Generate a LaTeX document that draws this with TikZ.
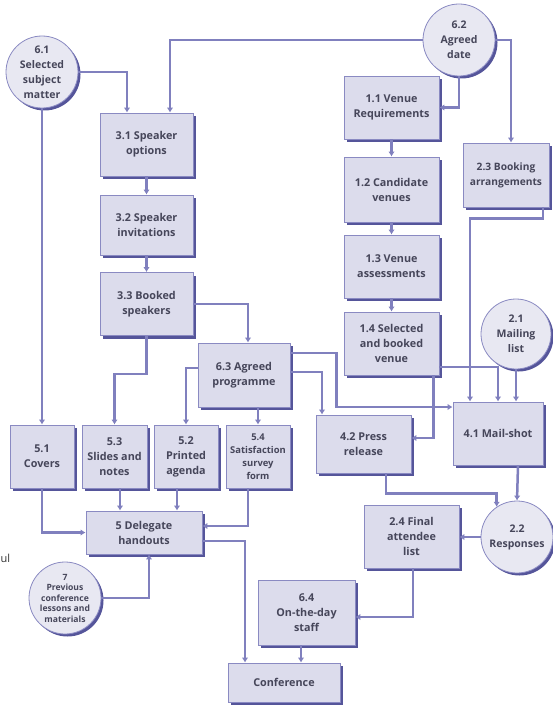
\documentclass[tikz,border=0pt]{standalone}
\usepackage{fontspec}
\setmainfont{Open Sans}
\usetikzlibrary{arrows.meta,shadows,calc}
\definecolor{boxfill}{HTML}{DCDCEC}
\definecolor{boxline}{HTML}{8A8AC2}
\definecolor{boxshade}{HTML}{55559A}
\definecolor{circfill}{HTML}{E8E8F2}
\definecolor{flowc}{HTML}{8080BE}
\definecolor{txt}{HTML}{46465A}
\tikzset{
  proc/.style={rectangle, draw=boxline, line width=0.8pt, fill=boxfill,
    drop shadow={shadow xshift=3pt, shadow yshift=-3pt, fill=boxshade, opacity=1},
    align=center, text=txt, font=\bfseries\fontsize{10.8}{15}\selectfont, inner sep=2pt},
  store/.style={circle, draw=boxline, line width=0.8pt, fill=circfill,
    drop shadow={shadow xshift=2.5pt, shadow yshift=-2.5pt, fill=boxshade, opacity=1},
    align=center, text=txt, font=\bfseries\fontsize{10.5}{15}\selectfont, inner sep=0pt},
  flow/.style={draw=flowc, line width=2.5pt, -{Latex[length=5pt,width=6.5pt]}}
}
\begin{document}
\begin{tikzpicture}[x=1pt,y=-1pt]
\useasboundingbox (0,0) rectangle (552,706);

% data stores
\node[store, minimum size=72pt] (c61) at (42,72) {6.1\\Selected\\subject\\matter};
\node[store, minimum size=72pt] (c62) at (459,40) {6.2\\Agreed\\date};
\node[store, minimum size=70pt] (c21) at (516,334) {2.1\\Mailing\\list};
\node[store, minimum size=72pt] (c22) at (517,537) {2.2\\Responses};
\node[store, minimum size=72pt, font=\bfseries\fontsize{8.6}{10.5}\selectfont] (c7) at (65,598) {7\\Previous\\conference\\lessons and\\materials};

% speaker processes
\node[proc, minimum width=93pt, minimum height=63pt] (p31) at (146.5,144.5) {3.1 Speaker\\options};
\node[proc, minimum width=93pt, minimum height=60pt] (p32) at (146.5,225) {3.2 Speaker\\invitations};
\node[proc, minimum width=93pt, minimum height=63pt] (p33) at (146.5,304) {3.3 Booked\\speakers};
\node[proc, minimum width=92pt, minimum height=64pt] (p63) at (244,375) {6.3 Agreed\\programme};

% venue processes
\node[proc, minimum width=95pt, minimum height=63pt] (p11) at (391.5,107.5) {1.1 Venue\\Requirements};
\node[proc, minimum width=95pt, minimum height=65pt] (p12) at (391.5,189.5) {1.2 Candidate\\venues};
\node[proc, minimum width=95pt, minimum height=63pt] (p13) at (391.5,266.5) {1.3 Venue\\assessments};
\node[proc, minimum width=95pt, minimum height=63pt] (p14) at (391.5,343.5) {1.4 Selected\\and booked\\venue};
\node[proc, minimum width=86pt, minimum height=64pt, font=\bfseries\fontsize{10.2}{15}\selectfont] (p23) at (506,175) {2.3 Booking\\arrangements};

% mailing and press
\node[proc, minimum width=90pt, minimum height=63pt] (p41) at (498,433.5) {4.1 Mail-shot};
\node[proc, minimum width=95pt, minimum height=58pt] (p42) at (363.5,444) {4.2 Press\\release};
\node[proc, minimum width=95pt, minimum height=63pt] (p24) at (411.5,536.5) {2.4 Final\\attendee\\list};
\node[proc, minimum width=97pt, minimum height=65pt] (p64) at (306.5,612.5) {6.4\\On-the-day\\staff};
\node[proc, minimum width=112pt, minimum height=39pt] (pconf) at (284,682.5) {Conference};

% handout components
\node[proc, minimum width=64pt, minimum height=63pt] (p51) at (42,456.5) {5.1\\Covers};
\node[proc, minimum width=65pt, minimum height=63pt] (p53) at (114.5,456.5) {5.3\\Slides and\\notes};
\node[proc, minimum width=64pt, minimum height=63pt] (p52) at (186,456.5) {5.2\\Printed\\agenda};
\node[proc, minimum width=64pt, minimum height=63pt, font=\bfseries\fontsize{9.4}{13}\selectfont] (p54) at (258,456.5) {5.4\\Satisfaction\\survey\\form};
\node[proc, minimum width=116pt, minimum height=43pt] (p5) at (144,532.5) {5 Delegate\\handouts};

\node[anchor=west, inner sep=0pt, text=black!80, font=\fontsize{11}{13}\selectfont] (frag) at (0.5,558) {ul};

% flows: inputs to speaker options
\draw[flow] (c61.east) -| ([xshift=-19.5pt]p31.north);
\draw[flow] (c62.west) -| ([xshift=23.5pt]p31.north);
\draw[flow] (c61.south) -- (p51.north);
\draw[flow] (c62.south) |- (p11.east);
\draw[flow] (c62.east) -| ([xshift=5pt]p23.north);

% venue chain
\draw[flow] (p11.south) -- (p12.north);
\draw[flow] (p12.south) -- (p13.north);
\draw[flow] (p13.south) -- (p14.north);

% speaker chain
\draw[flow] (p31.south) -- (p32.north);
\draw[flow] (p32.south) -- (p33.north);
\draw[flow] (p33.east) -| ([xshift=4pt]p63.north);
\draw[flow] (p33.south) -- ++(0,38) -| (p53.north);

% into the mail-shot
\draw[flow] ([xshift=37pt]p23.south) -- ++(0,11) -| ([xshift=-28pt]p41.north);
\draw[flow] ([yshift=-23.5pt]p14.east) -| (p41.north);
\draw[flow] (c21.south) -- (c21.south |- p41.north);
\draw[flow] ([yshift=22pt]p63.east) -- ++(46,0) |- ([yshift=26.5pt]p41.west);

% press release
\draw[flow] ([xshift=42pt]p14.south) |- ([yshift=6pt]p42.east);
\draw[flow] ([yshift=3pt]p63.east) -| ([xshift=-41.5pt]p42.north);

% programme to handout parts
\draw[flow] (p54.north |- p63.south) -- (p54.north);
\draw[flow] ([yshift=7pt]p63.west) -| (p52.north);

% handout assembly
\draw[flow] (p51.south) |- (p5.west);
\draw[flow] ([xshift=5.5pt]p53.south) -- ([xshift=-24pt]p5.north);
\draw[flow] ([xshift=-9pt]p52.south) -- ([xshift=33pt]p5.north);
\draw[flow] ([xshift=-10pt]p54.south) |- ([yshift=6.5pt]p5.east);
\draw[flow] (c7.east) -| ([xshift=5pt]p5.south);
\draw[flow] ([yshift=-8.5pt]p5.east) -| ([xshift=-39pt]pconf.north);

% responses and staffing
\draw[flow] ([xshift=20pt]p41.south) -- (c22.north);
\draw[flow] ([xshift=22.5pt]p42.south) -- ++(0,20) -| (c22.124);
\draw[flow] (c22.west) -- (c22.west -| p24.east);
\draw[flow] ([xshift=1.5pt]p24.south) |- ([yshift=-4.5pt]p64.east);
\draw[flow] ([xshift=-5.5pt]p64.south) -- ([xshift=17pt]pconf.north);
\end{tikzpicture}
\end{document}
